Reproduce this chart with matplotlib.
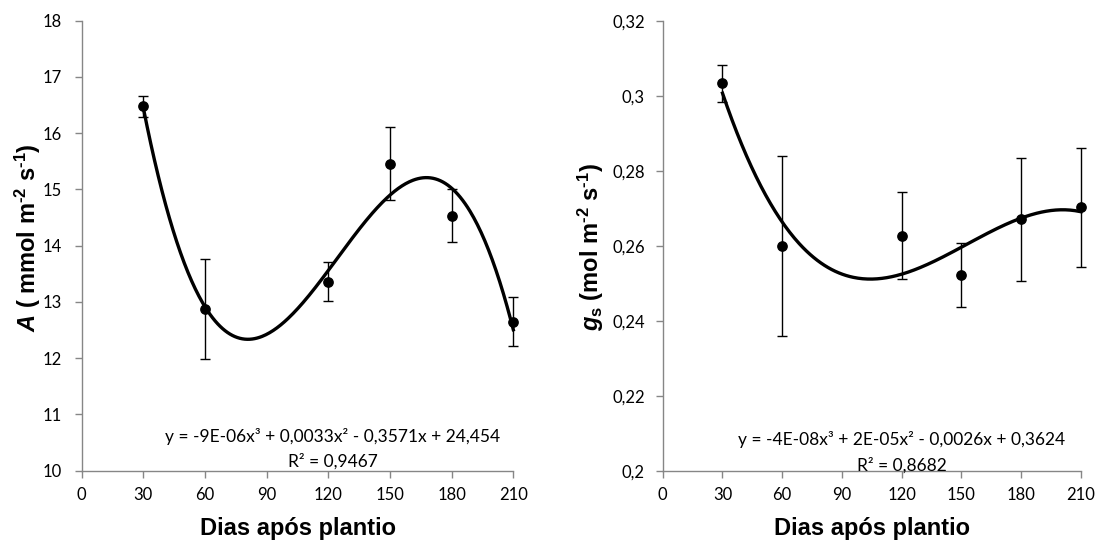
import numpy as np
import matplotlib
matplotlib.use("Agg")
import matplotlib.pyplot as plt
from matplotlib.ticker import FuncFormatter

plt.rcParams["font.family"] = ["Lato", "DejaVu Sans"]
plt.rcParams["mathtext.fontset"] = "custom"
plt.rcParams["mathtext.rm"] = "Liberation Sans:bold"
plt.rcParams["mathtext.it"] = "Liberation Sans:bold:italic"
plt.rcParams["mathtext.bf"] = "Liberation Sans:bold"

# Days after planting
dias = [30, 60, 120, 150, 180, 210]

# Net photosynthesis A (mmol m-2 s-1)
a_media = [16.48, 12.87, 13.36, 15.46, 14.53, 12.65]
a_erro = [0.19, 0.89, 0.35, 0.65, 0.47, 0.44]
a_equacao = "y = -9E-06x³ + 0,0033x² - 0,3571x + 24,454"
a_r2 = "R² = 0,9467"

# Stomatal conductance gs (mol m-2 s-1)
gs_media = [0.3033, 0.260, 0.2627, 0.2522, 0.2670, 0.2702]
gs_erro = [0.0050, 0.0240, 0.0116, 0.0085, 0.0165, 0.0159]
gs_equacao = "y = -4E-08x³ + 2E-05x² - 0,0026x + 0,3624"
gs_r2 = "R² = 0,8682"

xticks = list(range(0, 211, 30))
a_yticks = list(range(10, 19))
gs_yticks = [0.20, 0.22, 0.24, 0.26, 0.28, 0.30, 0.32]

AXIS_GREY = "#868686"
fig = plt.figure(figsize=(10.98, 5.40), dpi=100)
ax1 = fig.add_axes([0.0744, 0.1283, 0.3931, 0.8334])
ax2 = fig.add_axes([0.6036, 0.1283, 0.3809, 0.8334])


def comma(v, _pos=None):
    return f"{v:g}".replace(".", ",")


def painel(ax, x, y, err, yticks, ylabel, eq, r2, eq_xy, r2_xy, ypad, lab_xy):
    x = np.asarray(x, float)
    y = np.asarray(y, float)
    # third-degree polynomial trend line through the means
    coef = np.polyfit(x, y, 3)
    xs = np.linspace(x.min(), x.max(), 300)
    ax.plot(xs, np.polyval(coef, xs), color="black", lw=2.4, zorder=2,
            clip_on=False)
    eb = ax.errorbar(x, y, yerr=err, fmt="o", color="black", ms=6.7,
                     elinewidth=1.0, capsize=3.5, capthick=1.0, zorder=3)
    for artist in eb.get_children():
        artist.set_clip_on(False)
    ax.set_xlim(0, 210)
    ax.set_ylim(yticks[0], yticks[-1])
    ax.set_xticks(xticks)
    ax.set_yticks(yticks)
    ax.yaxis.set_major_formatter(FuncFormatter(comma))
    for s in ("top", "right"):
        ax.spines[s].set_visible(False)
    for s in ("left", "bottom"):
        ax.spines[s].set_color(AXIS_GREY)
        ax.spines[s].set_linewidth(1.0)
    ax.tick_params(axis="both", colors=AXIS_GREY, labelcolor="black",
                   length=5, width=1.0, labelsize=12)
    ax.tick_params(axis="y", pad=ypad)
    ax.tick_params(axis="x", pad=7)
    xl = ax.set_xlabel("Dias após plantio", fontsize=17, fontweight="bold",
                       family="Liberation Sans")
    xl.set_va("center")
    ax.xaxis.set_label_coords(0.5, -0.128)
    yl = ax.set_ylabel(ylabel, fontsize=17, fontweight="bold",
                       family="Liberation Sans")
    yl.set_va("center")
    ax.yaxis.set_label_coords(*lab_xy)
    ax.text(*eq_xy, eq, ha="center", va="center", fontsize=12.5)
    ax.text(*r2_xy, r2, ha="center", va="center", fontsize=12.5)


painel(ax1, dias, a_media, a_erro, a_yticks,
       r"$\mathit{A}$ ( mmol m$^{\text{-2}}$ s$^{\text{-1}}$)", a_equacao, a_r2,
       (122, 10.6), (122, 10.16), 9, (-0.1256, 0.517))
painel(ax2, dias, gs_media, gs_erro, gs_yticks,
       r"$\mathit{g}_{\mathrm{s}}$ (mol m$^{\text{-2}}$ s$^{\text{-1}}$)", gs_equacao, gs_r2,
       (120, 0.2082), (120, 0.2015), 8, (-0.171, 0.498))

fig.savefig("out.png", dpi=100)
